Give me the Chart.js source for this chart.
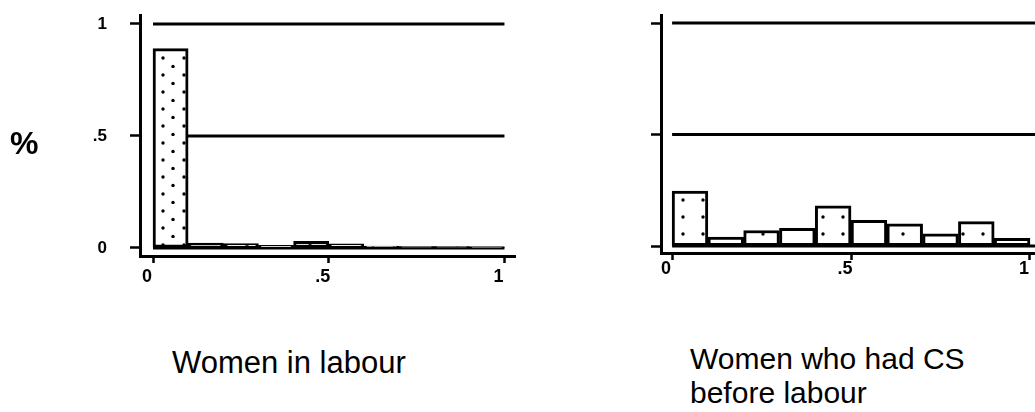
<!DOCTYPE html>
<html>
<head>
<meta charset="utf-8">
<script src="https://cdn.jsdelivr.net/npm/chart.js@4/dist/chart.umd.min.js"></script>
<style>
  html, body { margin: 0; padding: 0; background: #fff; }
  body { width: 1035px; height: 412px; position: relative; overflow: hidden;
         font-family: Arial, "Liberation Sans", sans-serif; color: #000; }
  canvas { position: absolute; top: 0; }
  #left { left: 0; }
  #right { left: 520px; }
  .lbl { position: absolute; white-space: nowrap; }
  #pct { left: 10px; top: 127px; font-size: 32px; line-height: 32px; font-weight: bold; }
  #t1 { left: 172px; top: 346px; font-size: 31px; line-height: 34px; }
  #t2 { left: 690px; top: 342px; font-size: 30px; line-height: 34px; }
</style>
</head>
<body>
<canvas id="left" width="520" height="300"></canvas>
<canvas id="right" width="515" height="300"></canvas>
<div class="lbl" id="pct">%</div>
<div class="lbl" id="t1">Women in labour</div>
<div class="lbl" id="t2">Women who had CS<br>before labour</div>
<script>
// histogram bins (fraction of the way through labour), width 0.1
const binCenters = [0.05, 0.15, 0.25, 0.35, 0.45, 0.55, 0.65, 0.75, 0.85, 0.95];
// share of women per bin
const labourShares = [0.89, 0.022, 0.02, 0.012, 0.03, 0.018, 0.008, 0.006, 0.006, 0.004];
const csShares = [0.247, 0.04, 0.07, 0.08, 0.18, 0.115, 0.10, 0.055, 0.11, 0.035];
// axis ticks
const tickValues = [0, 0.5, 1];
const tickLabels = ['0', '.5', '1'];

Chart.defaults.font.family = 'Arial, "Liberation Sans", sans-serif';
Chart.defaults.color = '#000';

const LINE = 3;

function dotPattern(ctx, w, h, dots) {
    const c = document.createElement('canvas');
    c.width = w; c.height = h;
    const g = c.getContext('2d');
    g.fillStyle = '#fff';
    g.fillRect(0, 0, w, h);
    g.fillStyle = '#000';
    dots.forEach(([x, y]) => {
        g.beginPath();
        g.arc(x, y, 1.7, 0, Math.PI * 2);
        g.fill();
    });
    return ctx.createPattern(c, 'repeat');
}

// horizontal reference lines at 0, .5, 1 running from x=0 to a given x
const hgrid = {
    id: 'hgrid',
    beforeDatasetsDraw(chart, args, opts) {
        const { ctx, scales: { x, y } } = chart;
        ctx.save();
        ctx.strokeStyle = '#000';
        ctx.lineWidth = LINE;
        tickValues.forEach(v => {
            const py = y.getPixelForValue(v);
            ctx.beginPath();
            ctx.moveTo(x.getPixelForValue(0), py);
            ctx.lineTo(x.getPixelForValue(opts.to), py);
            ctx.stroke();
        });
        ctx.restore();
    }
};

function fixedTicks(axis) {
    axis.ticks = tickValues.map(v => ({ value: v }));
}

function makeChart(id, shares, cfg) {
    const canvas = document.getElementById(id);
    const ctx = canvas.getContext('2d');
    const dots = dotPattern(ctx, cfg.pat[0], cfg.pat[1], cfg.pat[2]);
    return new Chart(ctx, {
        type: 'bar',
        data: {
            datasets: [{
                data: binCenters.map((c, i) => ({ x: c, y: shares[i] })),
                backgroundColor: shares.map((s, i) => i % 2 === 0 ? dots : '#fff'),
                borderColor: '#000',
                borderWidth: LINE,
                borderSkipped: false,
                barPercentage: 1,
                categoryPercentage: 1,
                grouped: false
            }]
        },
        options: {
            responsive: false,
            animation: false,
            layout: { padding: { left: 0, right: cfg.padRight, top: 15, bottom: 0 } },
            plugins: {
                legend: { display: false },
                tooltip: { enabled: false },
                hgrid: { to: cfg.gridTo }
            },
            scales: {
                x: {
                    type: 'linear',
                    offset: false,
                    min: cfg.xMin,
                    max: cfg.xMax,
                    afterBuildTicks: fixedTicks,
                    afterFit: s => {
                        s.height = cfg.xHeight;
                        s.paddingLeft = 0;
                        s.paddingRight = 0;
                    },
                    border: { display: true, color: '#000', width: LINE },
                    grid: { display: true, offset: false, drawOnChartArea: false, drawTicks: true,
                            tickLength: 7, tickColor: '#000', tickWidth: 2.5 },
                    ticks: {
                        autoSkip: false,
                        maxRotation: 0,
                        padding: cfg.xPad,
                        labelOffset: -6,
                        font: { size: 18, weight: 'bold' },
                        callback: v => tickLabels[tickValues.indexOf(v)]
                    }
                },
                y: {
                    min: cfg.yMin,
                    max: cfg.yMax,
                    afterBuildTicks: fixedTicks,
                    afterFit: s => {
                        s.width = cfg.yWidth;
                        s.paddingTop = 0;
                        s.paddingBottom = 0;
                    },
                    border: { display: true, color: '#000', width: LINE },
                    grid: { display: true, drawOnChartArea: false, drawTicks: true,
                            tickLength: 10, tickColor: '#000', tickWidth: 2.5 },
                    ticks: {
                        padding: 23,
                        font: { size: 17, weight: 'bold' },
                        callback: v => cfg.yLabels ? tickLabels[tickValues.indexOf(v)] : ''
                    }
                }
            }
        },
        plugins: [hgrid]
    });
}

makeChart('left', labourShares, {
    xMin: -0.037, xMax: 1.03, yMin: -0.036, yMax: 1.04,
    xHeight: 44, yWidth: 140, padRight: 5, xPad: 3, gridTo: 1, yLabels: true,
    pat: [21, 17, [[16, 7], [5, 15.5]]]
});

makeChart('right', csShares, {
    xMin: -0.031, xMax: 1.014, yMin: -0.031, yMax: 1.036,
    xHeight: 47, yWidth: 141, padRight: 0, xPad: -2, gridTo: 1.014, yLabels: false,
    pat: [20, 17, [[3, 13]]]
});
</script>
</body>
</html>
